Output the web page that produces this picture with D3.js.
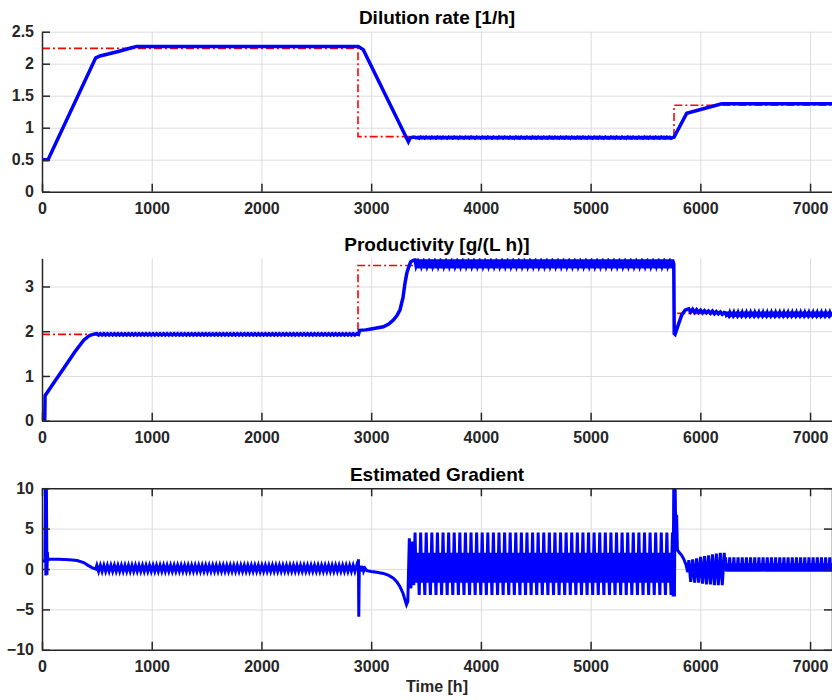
<!DOCTYPE html>
<html>
<head>
<meta charset="utf-8">
<script src="https://cdn.jsdelivr.net/npm/d3@7"></script>
<style>
  body { margin: 0; background: #fff; }
  svg { display: block; font-family: "Liberation Sans", Arial, sans-serif; font-weight: bold; }
</style>
</head>
<body>
<svg id="chart" width="832" height="700"></svg>
<script>
// ---- data (time in h) ----
const xTicks = [0, 1000, 2000, 3000, 4000, 5000, 6000, 7000];
const dilTicks = [0, 0.5, 1, 1.5, 2, 2.5];
const prodTicks = [0, 1, 2, 3];
const gradTicks = [-10, -5, 0, 5, 10];

// setpoints (red dash-dot)
const dilSet = [[0, 2.24], [2880, 2.24], [2880, 0.86], [5760, 0.86], [5760, 1.35], [7200, 1.35]];
const prodSet = [[0, 1.93], [2880, 1.93], [2880, 3.47], [5760, 3.47], [5760, 2.40], [7200, 2.40]];

// vertex times of the controller oscillation
const teethT = [500,516,532,548,564,580,596,612,628,644,660,676,692,708,724,740,756,772,788,804,
  820,836,852,868,884,900,916,932,948,964,980,996,1012,1028,1044,1060,1076,1092,1108,1124,
  1140,1156,1172,1188,1204,1220,1236,1252,1268,1284,1300,1316,1332,1348,1364,1380,1396,1412,1428,1444,
  1460,1476,1492,1508,1524,1540,1556,1572,1588,1604,1620,1636,1652,1668,1684,1700,1716,1732,1748,1764,
  1780,1796,1812,1828,1844,1860,1876,1892,1908,1924,1940,1956,1972,1988,2004,2020,2036,2052,2068,2084,
  2100,2116,2132,2148,2164,2180,2196,2212,2228,2244,2260,2276,2292,2308,2324,2340,2356,2372,2388,2404,
  2420,2436,2452,2468,2484,2500,2516,2532,2548,2564,2580,2596,2612,2628,2644,2660,2676,2692,2708,2724,
  2740,2756,2772,2788,2804,2820,2836,2852,2868];
const oscT = [
  3400,3410,3425,3438, 3451,3461,3476,3489, 3502,3512,3527,3540, 3553,3563,3578,3591,
  3604,3614,3629,3642, 3655,3665,3680,3693, 3706,3716,3731,3744, 3757,3767,3782,3795,
  3808,3818,3833,3846, 3859,3869,3884,3897, 3910,3920,3935,3948, 3961,3971,3986,3999,
  4012,4022,4037,4050, 4063,4073,4088,4101, 4114,4124,4139,4152, 4165,4175,4190,4203,
  4216,4226,4241,4254, 4267,4277,4292,4305, 4318,4328,4343,4356, 4369,4379,4394,4407,
  4420,4430,4445,4458, 4471,4481,4496,4509, 4522,4532,4547,4560, 4573,4583,4598,4611,
  4624,4634,4649,4662, 4675,4685,4700,4713, 4726,4736,4751,4764, 4777,4787,4802,4815,
  4828,4838,4853,4866, 4879,4889,4904,4917, 4930,4940,4955,4968, 4981,4991,5006,5019,
  5032,5042,5057,5070, 5083,5093,5108,5121, 5134,5144,5159,5172, 5185,5195,5210,5223,
  5236,5246,5261,5274, 5287,5297,5312,5325, 5338,5348,5363,5376, 5389,5399,5414,5427,
  5440,5450,5465,5478, 5491,5501,5516,5529, 5542,5552,5567,5580, 5593,5603,5618,5631,
  5644,5654,5669,5682, 5695,5705,5720,5733];
const lateT = [
  6230,6237,6249,6259, 6268,6275,6287,6297, 6306,6313,6325,6335, 6344,6351,6363,6373,
  6382,6389,6401,6411, 6420,6427,6439,6449, 6458,6465,6477,6487, 6496,6503,6515,6525,
  6534,6541,6553,6563, 6572,6579,6591,6601, 6610,6617,6629,6639, 6648,6655,6667,6677,
  6686,6693,6705,6715, 6724,6731,6743,6753, 6762,6769,6781,6791, 6800,6807,6819,6829,
  6838,6845,6857,6867, 6876,6883,6895,6905, 6914,6921,6933,6943, 6952,6959,6971,6981,
  6990,6997,7009,7019, 7028,7035,7047,7057, 7066,7073,7085,7095, 7104,7111,7123,7133,
  7142,7149,7161,7171, 7180,7187,7199,7209];

// dilution rate [1/h]
const dilHead = [[0,0.5],[55,0.5],[483,2.07],[490,2.09],[529,2.12],[695,2.19],[817,2.25],[863,2.27],
  [2883,2.27],[2928,2.22],[3339,0.78],[3355,0.84],[3375,0.85]];
const dilOsc = [0.852, 0.84, 0.848, 0.836];
const dilTail = [[5746,0.845],[5760,0.85],[5876,1.225],[6195,1.375],[7200,1.375]];

// productivity [g/(L h)]
const prodHead = [[0,0],[25,0],[28,0.56],[100,0.82],[200,1.18],[300,1.54],[380,1.8],[430,1.9],[480,1.94]];
const prodTeeth = [1.945, 1.915];
const prodMid = [[2884,1.93],[2895,2.02],[2950,2.03],[3000,2.05],[3111,2.1],[3160,2.16],[3202,2.25],
  [3235,2.35],[3263,2.48],[3290,2.75],[3308,3.07],[3325,3.3],[3339,3.41],[3360,3.55],[3380,3.58]];
const prodOsc = [3.6, 3.46, 3.55, 3.41];
const prodEvent = [[5746,3.6],[5758,3.5],[5762,1.95],[5770,1.93],[5800,2.15],[5830,2.36],[5861,2.47],
  [5880,2.49],[5895,2.50],[5912,2.43],[5930,2.49],[5948,2.42],[5966,2.48],[5984,2.42],[6002,2.47],
  [6020,2.41],[6038,2.46],[6056,2.41],[6074,2.45],[6092,2.40],[6110,2.45],[6128,2.39],[6146,2.44],
  [6164,2.39],[6182,2.43],[6200,2.38],[6218,2.42]];
const prodLate = [2.41, 2.36, 2.39, 2.35];

// estimated gradient
const gradHead = [[0,1.0],[27,1.0],[31,10.5],[35,-0.8],[40,10.5],[45,-0.7],[49,2.1],[53,1.0],[60,1.2],
  [150,1.2],[250,1.15],[320,1.05],[380,0.8],[420,0.45],[460,0.15],[490,0.0]];
const gradTeeth = [0.45, -0.3];
const gradMid = [[2876,0.2],[2884,1.2],[2887,-5.9],[2892,0.3],[2900,-0.3],[2908,0.4],[2916,-0.3],
  [2924,0.35],[2932,-0.25],[2944,0.1],[2960,-0.2],[3000,-0.3],[3050,-0.4],[3111,-0.55],[3160,-0.8],
  [3202,-1.15],[3235,-1.6],[3263,-2.2],[3290,-3.0],[3308,-3.8],[3322,-4.4],[3334,-4.0],[3348,3.8],
  [3362,-2.4],[3376,3.4],[3388,-2.0]];
const gradOsc = [4.5, -1.7, 2.0, -3.2];
const gradEvent = [[5746,4.5],[5752,-3.4],[5758,10.5],[5764,-3.4],[5770,10.5],[5778,2.5],[5784,6.7],
  [5791,2.35],[5810,2.0],[5830,1.7],[5850,1.2],[5870,0.5],[5885,-0.4],
  [5895,1.1],[5912,-1.6],[5930,1.2],[5948,-1.7],[5966,1.3],[5984,-1.7],[6002,1.5],[6020,-1.8],
  [6038,1.6],[6056,-1.9],[6074,1.7],[6092,-1.9],[6110,1.8],[6128,-2.0],[6146,1.9],[6164,-2.0],
  [6182,2.0],[6200,-2.0],[6218,2.0],[6225,0.2]];
const gradLate = [1.45, -0.3, 0.7, -0.3];

// ---- assemble series: point lists, or vertex times with a repeating value cycle ----
function seq(times, cycle) { return times.map((t, i) => [t, cycle[i % cycle.length]]); }

const dilution = [].concat(dilHead, seq(oscT, dilOsc), dilTail);
const productivity = [].concat(prodHead, seq(teethT, prodTeeth), prodMid, seq(oscT, prodOsc), prodEvent, seq(lateT, prodLate));
const gradient = [].concat(gradHead, seq(teethT, gradTeeth), gradMid, seq(oscT, gradOsc), gradEvent, seq(lateT, gradLate));

// ---- layout ----
const left = 42, right = 832;
const fontTick = 16, fontTitle = 19;
const axisColor = "#262626";
const gridColor = "#dcdcdc";

const svg = d3.select("#chart");
const x = d3.scaleLinear().domain([0, 7200]).range([left, right]);

const panels = [
  { title: "Dilution rate [1/h]", top: 31.7, bottom: 191.7, domain: [0, 2.5], ticks: dilTicks, data: dilution, set: dilSet, box: false, lw: 3.5 },
  { title: "Productivity [g/(L h)]", top: 258.3, bottom: 420.7, domain: [0, 3.63], ticks: prodTicks, data: productivity, set: prodSet, box: false, lw: 3.5 },
  { title: "Estimated Gradient", top: 488.2, bottom: 649.8, domain: [-10, 10], ticks: gradTicks, data: gradient, set: null, box: true, lw: 3 }
];

panels.forEach((p, i) => {
  const y = d3.scaleLinear().domain(p.domain).range([p.bottom, p.top]);
  const h = p.bottom - p.top;
  const g = svg.append("g");

  // grid
  g.append("g")
    .attr("class", "grid")
    .attr("transform", `translate(0, ${p.bottom})`)
    .call(d3.axisBottom(x).tickValues(xTicks.slice(1)).tickSize(-h).tickFormat(""));
  g.append("g")
    .attr("class", "grid")
    .attr("transform", `translate(${left}, 0)`)
    .call(d3.axisLeft(y).tickValues(p.ticks).tickSize(-(right - left)).tickFormat(""));
  g.selectAll(".grid .domain").remove();
  g.selectAll(".grid line").attr("stroke", gridColor).attr("stroke-width", 1);

  // clipped lines
  const clipId = "clip" + i;
  svg.append("clipPath").attr("id", clipId)
    .append("rect").attr("x", left).attr("y", p.top).attr("width", right - left).attr("height", h);

  const line = d3.line().x(d => x(d[0])).y(d => y(d[1]));
  const plot = g.append("g").attr("clip-path", `url(#${clipId})`);

  if (p.set) {
    plot.append("path")
      .datum(p.set)
      .attr("d", line)
      .attr("fill", "none")
      .attr("stroke", "#ff0000")
      .attr("stroke-width", 1.6)
      .attr("stroke-dasharray", "8,3,2,3");
  }
  plot.append("path")
    .datum(p.data)
    .attr("d", line)
    .attr("fill", "none")
    .attr("stroke", "#0000ff")
    .attr("stroke-width", p.lw);

  // axes
  const axes = [];
  axes.push(g.append("g")
    .attr("transform", `translate(0, ${p.bottom})`)
    .call(d3.axisBottom(x).tickValues(xTicks).tickSizeInner(-8).tickSizeOuter(0).tickPadding(11).tickFormat(d3.format("d"))));
  axes.push(g.append("g")
    .attr("transform", `translate(${left}, 0)`)
    .call(d3.axisLeft(y).tickValues(p.ticks).tickSizeInner(-8).tickSizeOuter(0).tickPadding(8).tickFormat(d3.format(""))));

  if (p.box) {
    axes.push(g.append("g")
      .attr("transform", `translate(0, ${p.top})`)
      .call(d3.axisTop(x).tickValues(xTicks).tickSizeInner(-8).tickSizeOuter(0).tickFormat("")));
    axes.push(g.append("g")
      .attr("transform", `translate(${right}, 0)`)
      .call(d3.axisRight(y).tickValues(p.ticks).tickSizeInner(-8).tickSizeOuter(0).tickFormat("")));
  }

  axes.forEach(a => {
    a.attr("font-family", null).attr("font-size", fontTick);
    a.selectAll(".domain").attr("stroke", axisColor).attr("stroke-width", 1.5);
    a.selectAll(".tick line").attr("stroke", axisColor).attr("stroke-width", 1.5);
    a.selectAll(".tick text").attr("fill", axisColor);
  });

  // title
  svg.append("text")
    .attr("x", (left + right) / 2)
    .attr("y", p.top - 7.5)
    .attr("text-anchor", "middle")
    .attr("font-size", fontTitle)
    .attr("fill", "#000")
    .text(p.title);
});

svg.append("text")
  .attr("x", (left + right) / 2)
  .attr("y", 692)
  .attr("text-anchor", "middle")
  .attr("font-size", fontTick)
  .attr("fill", axisColor)
  .text("Time [h]");
</script>
</body>
</html>
